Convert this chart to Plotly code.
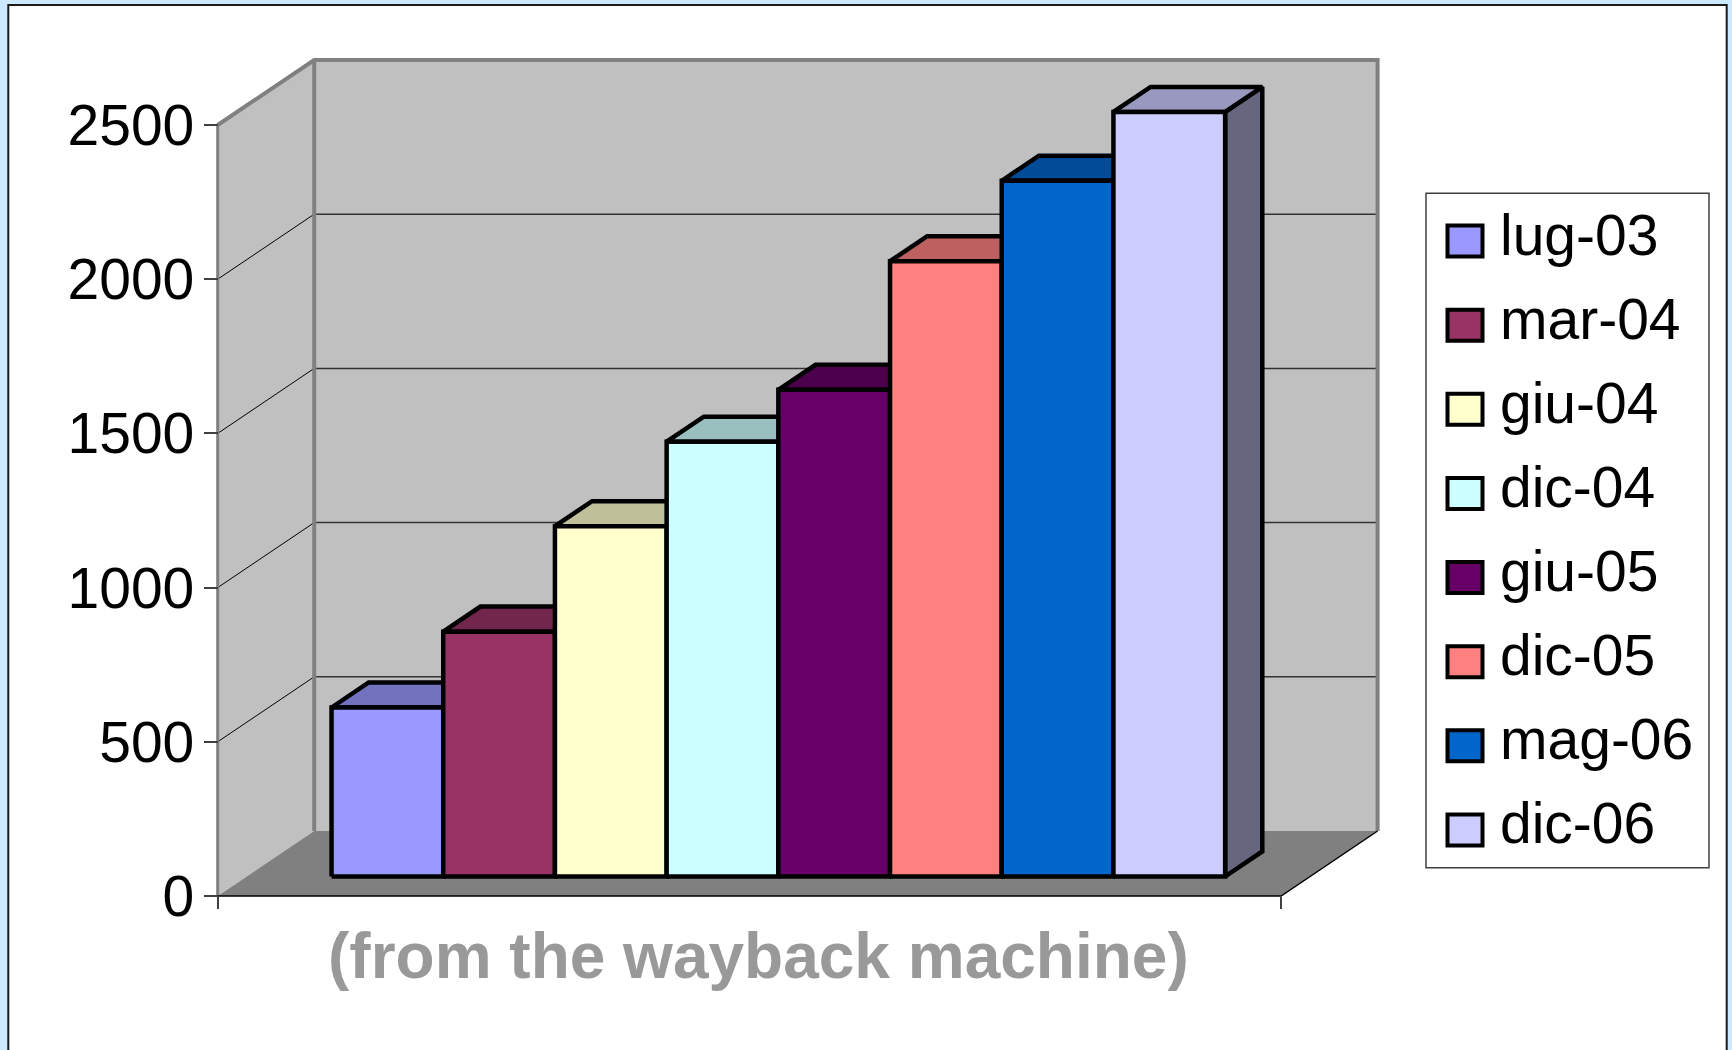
import plotly.graph_objects as go

# ---------------- data ----------------
categories = ["lug-03", "mar-04", "giu-04", "dic-04", "giu-05", "dic-05", "mag-06", "dic-06"]
values = [548, 794, 1136, 1410, 1578, 1995, 2256, 2479]
colors = ["#9999FF", "#993366", "#FFFFCC", "#CCFFFF", "#660066", "#FF8080", "#0066CC", "#CCCCFF"]
y_tickvals = [0, 500, 1000, 1500, 2000, 2500]
y_ticktext = ["0", "500", "1000", "1500", "2000", "2500"]
x_title = "(from the wayback machine)"

# ---------------- layout constants ----------------
W, H = 1732, 1050
X0, UX = 217.7, 111.7        # pixel of u=0, pixels per category-unit
Y0, VY = 896.0, 0.3084       # pixel of v=0 (front plane), pixels per value unit
DXu = 96.5 / UX              # full depth offset in x units
DYv = 65.0 / VY              # full depth offset in value units
GAP = 0.76
FLOOR_W = 2 * GAP + len(categories)
VMAX = 2500
BAR_D0, BAR_D1 = 0.30, 0.685
FONT = "Liberation Sans, Arial, sans-serif"
BAR_LW = 4.5


def proj(u, v, d):
    return u + d * DXu, v + d * DYv


def shade(hexcol, f):
    h = hexcol.lstrip("#")
    r, g, b = (int(h[i:i + 2], 16) for i in (0, 2, 4))
    return "#%02X%02X%02X" % (int(r * f), int(g * f), int(b * f))


def poly(pts, fill, line_color, lw):
    xs = [p[0] for p in pts] + [pts[0][0]]
    ys = [p[1] for p in pts] + [pts[0][1]]
    return go.Scatter(x=xs, y=ys, mode="lines", fill="toself", fillcolor=fill,
                      line=dict(color=line_color, width=lw), hoverinfo="skip",
                      showlegend=False)


def seg(pts, color, lw):
    return go.Scatter(x=[p[0] for p in pts], y=[p[1] for p in pts], mode="lines",
                      line=dict(color=color, width=lw), hoverinfo="skip", showlegend=False)


fig = go.Figure()

# side wall
fig.add_trace(poly([proj(0, 0, 0), proj(0, VMAX, 0), proj(0, VMAX, 1), proj(0, 0, 1)],
                   "#C0C0C0", "rgba(0,0,0,0)", 0))
# back wall
fig.add_trace(poly([proj(0, 0, 1), proj(0, VMAX, 1), proj(FLOOR_W, VMAX, 1), proj(FLOOR_W, 0, 1)],
                   "#C0C0C0", "rgba(0,0,0,0)", 0))
# floor
fig.add_trace(poly([proj(0, 0, 0), proj(FLOOR_W, 0, 0), proj(FLOOR_W, 0, 1), proj(0, 0, 1)],
                   "#808080", "rgba(0,0,0,0)", 0))

# gridlines
for v in y_tickvals[1:-1]:
    fig.add_trace(seg([proj(0, v, 0), proj(0, v, 1)], "#000000", 1))
    fig.add_trace(seg([proj(0, v, 1), proj(FLOOR_W, v, 1)], "#333333", 1.5))

# wall borders
fig.add_trace(seg([proj(0, 0, 0), proj(0, VMAX, 0)], "#808080", 3))
fig.add_trace(seg([proj(0, VMAX, 0), proj(0, VMAX, 1), proj(FLOOR_W, VMAX, 1), proj(FLOOR_W, 0, 1)],
                  "#808080", 4))
fig.add_trace(seg([proj(0, 0, 1), proj(0, VMAX, 1)], "#808080", 4))
# floor edges
fig.add_trace(seg([proj(0, 0, 0), proj(FLOOR_W, 0, 0), proj(FLOOR_W, 0, 1)], "#000000", 1.5))

# bars
for i, (cat, val, col) in enumerate(zip(categories, values, colors)):
    u0, u1 = GAP + i, GAP + i + 1
    right = [proj(u1, 0, BAR_D0), proj(u1, 0, BAR_D1), proj(u1, val, BAR_D1), proj(u1, val, BAR_D0)]
    top = [proj(u0, val, BAR_D0), proj(u1, val, BAR_D0), proj(u1, val, BAR_D1), proj(u0, val, BAR_D1)]
    front = [proj(u0, 0, BAR_D0), proj(u1, 0, BAR_D0), proj(u1, val, BAR_D0), proj(u0, val, BAR_D0)]
    fig.add_trace(poly(right, shade(col, 0.5), "#000000", BAR_LW))
    fig.add_trace(poly(top, shade(col, 0.75), "#000000", BAR_LW))
    tr = poly(front, col, "#000000", BAR_LW)
    tr.name = cat
    fig.add_trace(tr)

# ---------------- legend (manual, large swatches) ----------------
LEG_L, LEG_T, LEG_R, LEG_B = 1426, 193.3, 1709, 867.7
SW_L, SW_R, SW_H = 1447.5, 1482.5, 31
ROW0, ROW_STEP = 241.0, 84.14
TXT_X = 1498

px = lambda x: x / W
py = lambda y: 1 - y / H

shapes = [
    dict(type="rect", xref="paper", yref="paper", x0=px(8.3), x1=px(1726.7), y0=py(5), y1=py(1060),
         fillcolor="white", line=dict(color="#1a1a1a", width=2), layer="below"),
    dict(type="rect", xref="paper", yref="paper", x0=px(LEG_L), x1=px(LEG_R), y0=py(LEG_T), y1=py(LEG_B),
         fillcolor="white", line=dict(color="#404040", width=1.5), layer="above"),
]
annotations = []
for i, (cat, col) in enumerate(zip(categories, colors)):
    cy = ROW0 + i * ROW_STEP
    shapes.append(dict(type="rect", xref="paper", yref="paper", x0=px(SW_L), x1=px(SW_R),
                       y0=py(cy - SW_H / 2), y1=py(cy + SW_H / 2), fillcolor=col,
                       line=dict(color="black", width=4), layer="above"))
    annotations.append(dict(text=cat, xref="paper", yref="paper", x=px(TXT_X), y=py(cy - 6.5),
                            xanchor="left", yanchor="middle", showarrow=False,
                            font=dict(family=FONT, size=57, color="black")))

annotations.append(dict(text=x_title, xref="paper", yref="paper", x=px(758), y=py(956),
                        xanchor="center", yanchor="middle", showarrow=False,
                        font=dict(family=FONT, size=64, color="#999999", weight="bold")))

fig.update_layout(
    width=W, height=H, autosize=False,
    margin=dict(l=0, r=0, t=0, b=0, pad=0),
    paper_bgcolor="#CCE9FF", plot_bgcolor="rgba(0,0,0,0)",
    showlegend=False,
    xaxis=dict(range=[(0 - X0) / UX, (W - X0) / UX], domain=[0, 1],
               tickvals=[0, FLOOR_W], ticks="outside", ticklen=12, tickwidth=1.5,
               tickcolor="#404040", showticklabels=False, showgrid=False, zeroline=False,
               showline=False, anchor="free", position=(H - Y0) / H, fixedrange=True),
    yaxis=dict(range=[(Y0 - H) / VY, Y0 / VY], domain=[0, 1],
               tickvals=y_tickvals, ticktext=y_ticktext, ticks="outside", ticklen=14,
               tickwidth=1.5, tickcolor="#404040", showgrid=False, zeroline=False,
               showline=False, anchor="free", position=X0 / W, ticklabelstandoff=-2,
               tickfont=dict(family=FONT, size=57, color="black"), fixedrange=True),
    shapes=shapes, annotations=annotations,
)

fig.write_html("out.html", config={"displayModeBar": False},
               post_script="document.body.style.margin='0';document.body.style.overflow='hidden';")
